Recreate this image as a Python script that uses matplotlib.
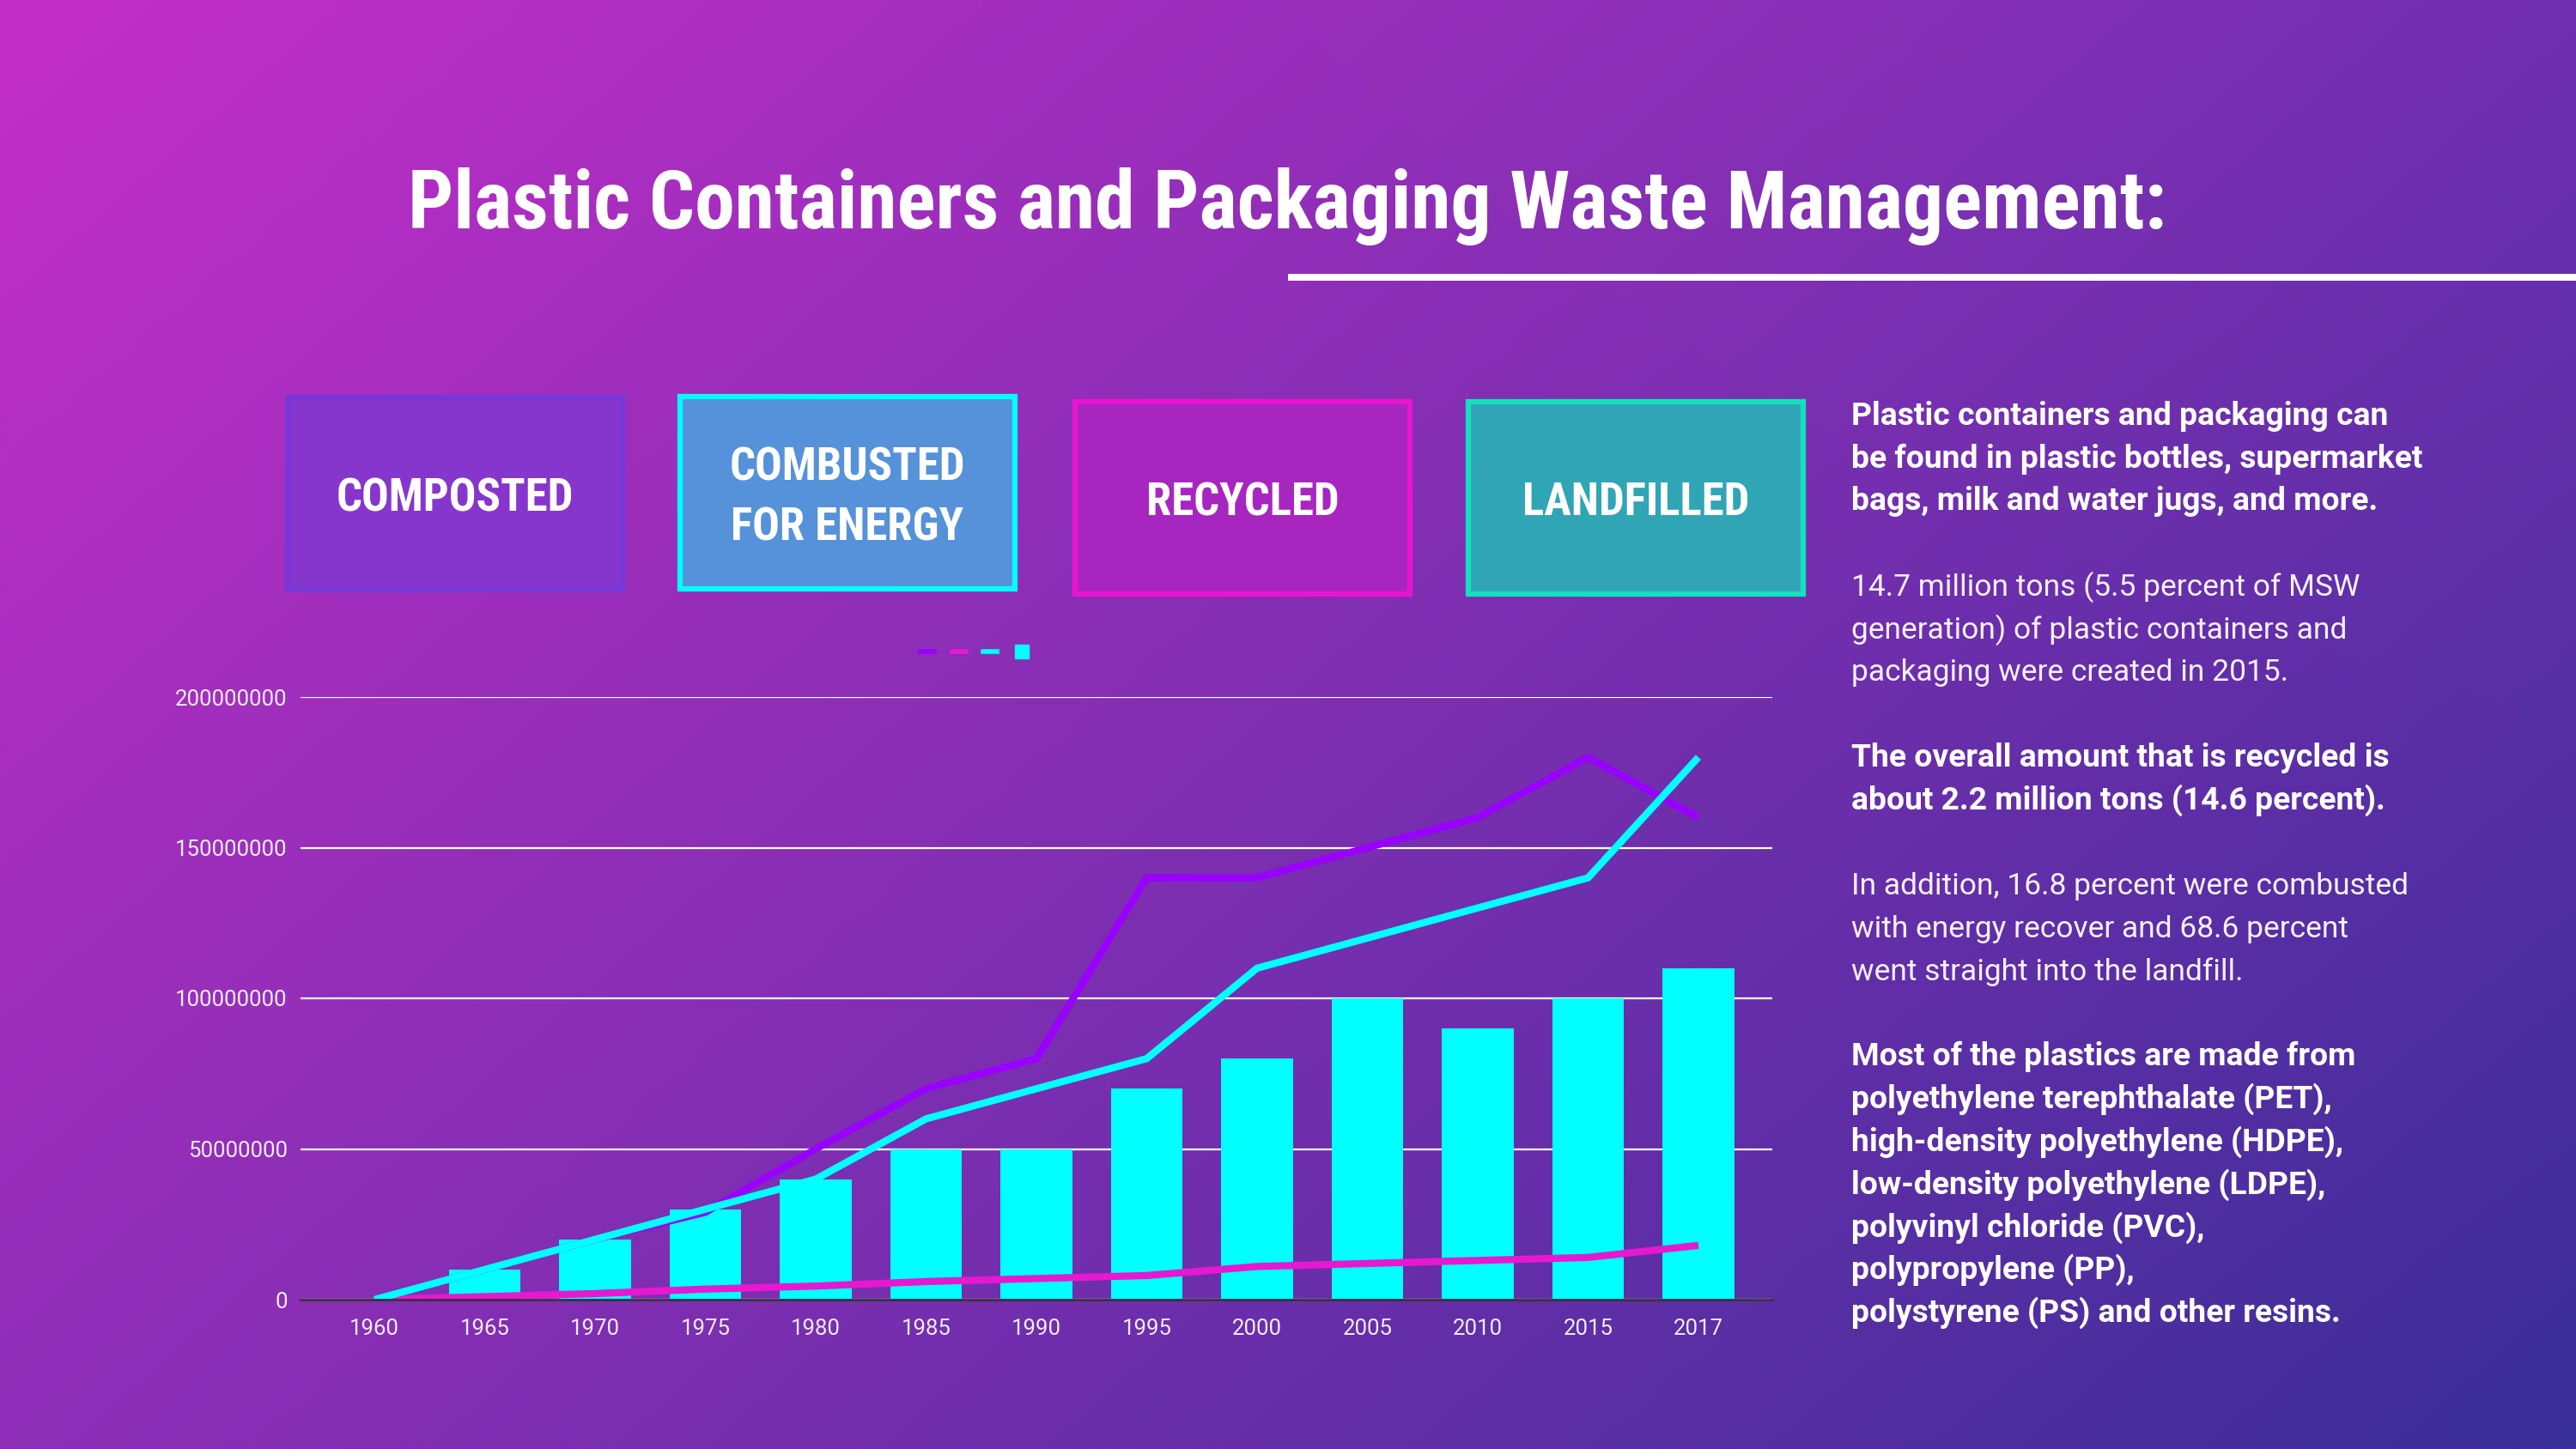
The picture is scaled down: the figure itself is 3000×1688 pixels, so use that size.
''' plastic packaging waste chart '''
import numpy as np
import matplotlib
matplotlib.use('Agg')
import matplotlib.pyplot as plt
from matplotlib import font_manager
from matplotlib.patches import Rectangle
from matplotlib.lines import Line2D

years = ['1960', '1965', '1970', '1975', '1980', '1985', '1990',
         '1995', '2000', '2005', '2010', '2015', '2017']
bar_vals = [0, 10e6, 20e6, 30e6, 40e6, 50e6, 50e6,
            70e6, 80e6, 100e6, 90e6, 100e6, 110e6]
purple_vals = [0, 10e6, 20e6, 29e6, 50e6, 70e6, 80e6,
               140e6, 140e6, 150e6, 160e6, 180e6, 160e6]
magenta_vals = [0, 1e6, 2e6, 3.5e6, 4.5e6, 6e6, 7e6,
                8e6, 11e6, 12e6, 13e6, 14e6, 18e6]
cyan_vals = [0, 10e6, 20e6, 30e6, 40e6, 60e6, 70e6,
             80e6, 110e6, 120e6, 130e6, 140e6, 180e6]
y_ticks = [0, 50000000, 100000000, 150000000, 200000000]

title = 'Plastic Containers and Packaging Waste Management:'
box_labels = ['COMPOSTED', 'COMBUSTED\nFOR ENERGY', 'RECYCLED', 'LANDFILLED']
box_fill = ['#8636cc', '#5592da', '#a826c0', '#2fa5b5']
box_edge = ['#7838d8', '#00ffff', '#e815d0', '#14e0c0']

side_text = [
    ('bold', 'Plastic containers and packaging can'),
    ('bold', 'be found in plastic bottles, supermarket'),
    ('bold', 'bags, milk and water jugs, and more.'),
    ('bold', ''),
    ('light', '14.7 million tons (5.5 percent of MSW'),
    ('light', 'generation) of plastic containers and'),
    ('light', 'packaging were created in 2015.'),
    ('bold', ''),
    ('bold', 'The overall amount that is recycled is'),
    ('bold', 'about 2.2 million tons (14.6 percent).'),
    ('bold', ''),
    ('light', 'In addition, 16.8 percent were combusted'),
    ('light', 'with energy recover and 68.6 percent'),
    ('light', 'went straight into the landfill.'),
    ('bold', ''),
    ('bold', 'Most of the plastics are made from'),
    ('bold', 'polyethylene terephthalate (PET),'),
    ('bold', 'high-density polyethylene (HDPE),'),
    ('bold', 'low-density polyethylene (LDPE),'),
    ('bold', 'polyvinyl chloride (PVC),'),
    ('bold', 'polypropylene (PP),'),
    ('bold', 'polystyrene (PS) and other resins.'),
]

PURPLE = '#9900ff'
MAGENTA = '#e619d1'
CYAN = '#00ffff'

W, H = 3000, 1688

available = {f.name for f in font_manager.fontManager.ttflist}
cond_font = next(c for c in ['Liberation Sans Narrow', 'Roboto Condensed',
                             'DejaVu Sans'] if c in available)
body_font = 'Roboto' if 'Roboto' in available else 'DejaVu Sans'


def fx(px):
    return px / W


def fy(px):
    return 1 - px / H


def fit_width(txt, width_px, renderer):
    bb = txt.get_window_extent(renderer)
    txt.set_fontsize(txt.get_fontsize() * width_px / bb.width)


fig = plt.figure(figsize=(W / 100, H / 100), dpi=100)
renderer = fig.canvas.get_renderer()

# background gradient (bilinear between the four corners)
tl = np.array([196, 46, 200]) / 255
tr = np.array([112, 48, 176]) / 255
bl = np.array([142, 46, 184]) / 255
br = np.array([58, 46, 152]) / 255
u = np.linspace(0, 1, 320)[None, :, None]
v = np.linspace(0, 1, 180)[:, None, None]
grad = (1 - v) * ((1 - u) * tl + u * tr) + v * ((1 - u) * bl + u * br)
bg = fig.add_axes([0, 0, 1, 1], zorder=-10)
bg.imshow(grad, aspect='auto', interpolation='bilinear', extent=[0, 1, 0, 1])
bg.axis('off')

# title + underline
t = fig.text(0.4997, fy(266), title, ha='center', va='baseline', color='white',
             family=cond_font, weight='bold', fontsize=80)
fit_width(t, 2048, renderer)
fig.add_artist(Rectangle((0.5, fy(327)), 0.5, 8 / H, transform=fig.transFigure,
                         facecolor='white', edgecolor='none'))

# category boxes
box_x = [335, 792, 1252, 1710]
box_y = [463, 462, 468, 468]
for x0, y0, lab, fc, ec in zip(box_x, box_y, box_labels, box_fill, box_edge):
    fig.add_artist(Rectangle((fx(x0), fy(y0 + 224)), 390 / W, 224 / H,
                             transform=fig.transFigure, facecolor=fc,
                             edgecolor=ec, linewidth=4.5))
    fig.text(fx(x0 + 195), fy(y0 + 118), lab, ha='center', va='center',
             color='white', family=cond_font, weight='bold', fontsize=38,
             linespacing=1.45, multialignment='center')

# chart
ax = fig.add_axes([fx(350), fy(1514), fx(2064) - fx(350), (1514 - 812) / H])
ax.set_facecolor('none')
x = np.arange(len(years))
ax.bar(x, bar_vals, width=0.65, color=CYAN, zorder=1)
ax.plot(x, purple_vals, color=PURPLE, lw=6, zorder=3, solid_capstyle='butt')
ax.plot(x, magenta_vals, color=MAGENTA, lw=6, zorder=3, solid_capstyle='butt')
ax.plot(x, cyan_vals, color=CYAN, lw=6, zorder=3, solid_capstyle='butt')
ax.set_xlim(-0.67, 12.67)
ax.set_ylim(0, 200e6)
ax.set_xticks(x)
ax.set_xticklabels(years)
ax.set_yticks(y_ticks)
ax.set_yticklabels([str(v) for v in y_ticks])
ax.grid(axis='y', color='white', lw=1.6)
ax.set_axisbelow(True)
for s in ['top', 'right', 'left']:
    ax.spines[s].set_visible(False)
ax.spines['bottom'].set_color('#3a3040')
ax.spines['bottom'].set_linewidth(2)
ax.spines['bottom'].set_zorder(4)
ax.tick_params(length=0, colors='#f2ecf6', labelsize=18.5)
ax.tick_params(axis='y', pad=11)
ax.tick_params(axis='x', pad=16)
for lab in ax.get_xticklabels() + ax.get_yticklabels():
    lab.set_family(body_font)

# legend without labels, like the original
handles = [Line2D([], [], color=PURPLE, lw=4),
           Line2D([], [], color=MAGENTA, lw=4),
           Line2D([], [], color=CYAN, lw=4),
           Line2D([], [], color=CYAN, marker='s', ls='none', markersize=12)]
fig.legend(handles, ['', '', '', ''], loc='center',
           bbox_to_anchor=(fx(1135), fy(760)), ncol=4, frameon=False,
           fontsize=10, handlelength=1.15, handletextpad=0, columnspacing=1.5)

# side text
texts = []
for i, (wt, line) in enumerate(side_text):
    col = 'white' if wt == 'bold' else '#f6f0fa'
    texts.append(fig.text(fx(2156), fy(495 + 49.75 * i), line, ha='left',
                          va='baseline', color=col, family=body_font,
                          weight='bold' if wt == 'bold' else 'normal',
                          fontsize=26))
fit_width(texts[0], 626, renderer)
bold_size = texts[0].get_fontsize()
fit_width(texts[11], 649, renderer)
light_size = texts[11].get_fontsize()
for (wt, _), tx in zip(side_text, texts):
    tx.set_fontsize(bold_size if wt == 'bold' else light_size)

fig.savefig('out.png', dpi=100)
